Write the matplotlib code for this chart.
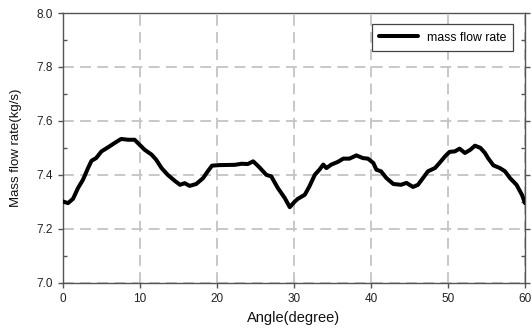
import matplotlib
matplotlib.use("Agg")
import matplotlib.pyplot as plt
from matplotlib.ticker import MultipleLocator

plt.rcParams['font.family'] = ['Liberation Sans', 'DejaVu Sans']

angle = [0.0, 0.65, 1.3, 1.95, 2.6, 3.25, 3.7, 4.3, 5.0, 5.85, 6.7, 7.55, 8.45, 9.3, 10.0,
         10.6, 11.5, 12.1, 12.8, 13.6, 14.5, 15.2, 15.8, 16.45, 17.3, 18.2, 18.8, 19.35, 20.3,
         22.3, 23.2, 24.0, 24.7, 25.5, 26.4, 27.05, 27.9, 28.8, 29.45, 30.1, 30.5, 31.4, 32.0,
         32.7, 33.3, 33.8, 34.2, 34.85, 35.7, 36.4, 37.2, 38.1, 38.95, 39.6, 40.3, 40.7, 41.3,
         42.0, 42.9, 43.9, 44.6, 45.45, 46.1, 46.75, 47.4, 48.3, 48.9, 49.6, 50.2, 50.9, 51.5,
         52.2, 52.9, 53.5, 54.2, 54.8, 55.2, 55.9, 56.75, 57.4, 58.05, 58.9, 59.6, 60.0]
mass_flow = [7.301, 7.295, 7.311, 7.351, 7.382, 7.425, 7.452, 7.462, 7.487, 7.502, 7.518, 7.533,
             7.530, 7.530, 7.510, 7.493, 7.475, 7.456, 7.425, 7.400, 7.378, 7.363, 7.369, 7.359,
             7.366, 7.388, 7.413, 7.434, 7.436, 7.437, 7.441, 7.440, 7.450, 7.428, 7.400, 7.394,
             7.351, 7.314, 7.280, 7.301, 7.311, 7.326, 7.357, 7.400, 7.419, 7.438, 7.425, 7.438,
             7.448, 7.460, 7.460, 7.472, 7.462, 7.460, 7.444, 7.419, 7.413, 7.388, 7.366, 7.363,
             7.370, 7.355, 7.363, 7.388, 7.413, 7.425, 7.444, 7.468, 7.485, 7.487, 7.497, 7.481,
             7.493, 7.508, 7.500, 7.481, 7.462, 7.435, 7.425, 7.413, 7.388, 7.363, 7.326, 7.295]

x_ticks = [0, 10, 20, 30, 40, 50, 60]
y_ticks = [7.0, 7.2, 7.4, 7.6, 7.8, 8.0]

fig = plt.figure(figsize=(5.32, 3.28), dpi=100)
ax = fig.add_axes([63/532, 1 - 282.7/328, (525-63)/532, (282.7-13)/328])

ax.plot(angle, mass_flow, color='black', lw=2.9, solid_joinstyle='round',
        solid_capstyle='round', label='mass flow rate', zorder=3)

ax.set_xlim(0, 60)
ax.set_ylim(7.0, 8.0)
ax.set_xticks(x_ticks)
ax.set_yticks(y_ticks)
ax.set_yticklabels([f"{v:.1f}" for v in y_ticks])
ax.yaxis.set_minor_locator(MultipleLocator(0.1))

ax.grid(True, which='major', color='#c4c4c4', linestyle=(0, (6, 3.5)), lw=1.3, zorder=0)
for s in ax.spines.values():
    s.set_color('#555555')
    s.set_linewidth(1.0)

ax.tick_params(axis='both', which='major', labelsize=8.5, colors='#555555',
               labelcolor='#222222', direction='out', length=3.5, width=1)
ax.tick_params(axis='y', which='minor', direction='in', length=3, width=1,
               colors='#555555', left=True, right=True)
ax.tick_params(axis='y', which='major', right=True, pad=4)
ax.tick_params(axis='x', pad=4)

ax.set_xlabel('Angle(degree)', fontsize=10.5, color='#111111', labelpad=4)
ax.set_ylabel('Mass flow rate(kg/s)', fontsize=9.5, color='#111111', labelpad=10)

leg = ax.legend(loc='upper right', bbox_to_anchor=(0.9745, 0.958), fontsize=8.8,
                frameon=True, fancybox=False, handlelength=3.2, borderpad=0.6,
                handletextpad=0.7, borderaxespad=0)
leg.get_frame().set_edgecolor('#444444')
leg.get_frame().set_linewidth(0.9)
leg.get_frame().set_alpha(1)

fig.savefig('out.png', dpi=100)
